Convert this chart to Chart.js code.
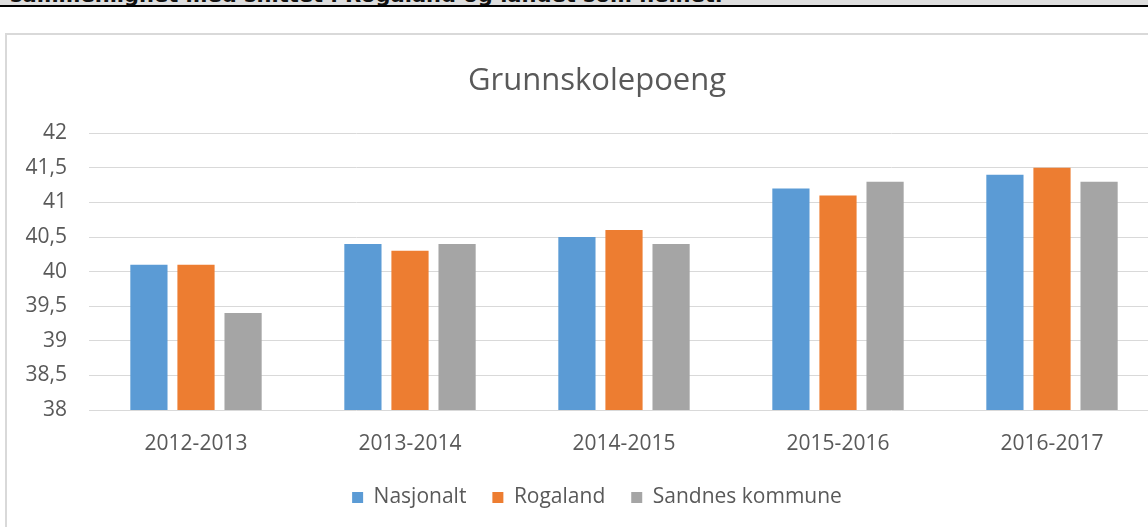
<!DOCTYPE html>
<html>
<head>
<meta charset="utf-8">
<script src="https://cdn.jsdelivr.net/npm/chart.js@4/dist/chart.umd.min.js"></script>
<style>
  body { margin: 0; background: #fff; overflow: hidden; width: 1148px; height: 527px; position: relative; }
  #strip { position: absolute; left: 0; top: 0; width: 1148px; height: 5px; background: #dedede; overflow: hidden; }
  #strip span { position: absolute; left: 10px; bottom: -1px; font: bold 21px "DejaVu Sans", sans-serif; color: #111; white-space: nowrap; line-height: 21px; }
  #rule { position: absolute; left: 0; top: 5px; width: 1148px; height: 2px; background: #000; }
  #box { position: absolute; left: 5px; top: 33px; width: 1180px; height: 600px; border: 2px solid #d9d9d9; }
  #wrap { width: 1180px; height: 520px; }
</style>
</head>
<body>
<div id="strip"><span>sammenlignet med snittet i Rogaland og landet som helhet.</span></div>
<div id="rule"></div>
<div id="box"><div id="wrap"><canvas id="myChart"></canvas></div></div>
<script>
const years = ['2012-2013', '2013-2014', '2014-2015', '2015-2016', '2016-2017'];
const nasjonalt = [40.1, 40.4, 40.5, 41.2, 41.4];
const rogaland = [40.1, 40.3, 40.6, 41.1, 41.5];
const sandnes = [39.4, 40.4, 40.4, 41.3, 41.3];

const textColor = '#595959';
const font = 'Open Sans';

// y labels sit partly inside the left layout padding, so widen their clip box
const labelRoom = {
    id: 'labelRoom',
    afterLayout(chart) { chart.scales.y.left = 0; }
};

window.addEventListener('load', setup);
function setup() {
    const ctx = document.getElementById('myChart').getContext('2d');
    new Chart(ctx, {
        type: 'bar',
        data: {
            labels: years,
            datasets: [
                { label: 'Nasjonalt', data: nasjonalt, backgroundColor: '#5b9bd5' },
                { label: 'Rogaland', data: rogaland, backgroundColor: '#ed7d31' },
                { label: 'Sandnes kommune', data: sandnes, backgroundColor: '#a5a5a5' }
            ]
        },
        options: {
            responsive: true,
            maintainAspectRatio: false,
            animation: false,
            categoryPercentage: 0.66,
            barPercentage: 0.79,
            layout: { padding: { left: 28, right: 28, top: 0, bottom: 37 } },
            plugins: {
                title: {
                    display: true,
                    text: 'Grunnskolepoeng',
                    color: textColor,
                    font: { family: font, size: 31, weight: 'normal' },
                    padding: { top: 28, bottom: 33 }
                },
                legend: {
                    position: 'bottom',
                    labels: {
                        color: textColor,
                        font: { family: font, size: 21 },
                        boxWidth: 11,
                        boxHeight: 11,
                        padding: 26
                    }
                },
                tooltip: { enabled: false }
            },
            scales: {
                x: {
                    grid: { display: false, drawTicks: false },
                    border: { display: false },
                    ticks: { color: textColor, font: { family: font, size: 21 }, padding: 21 },
                    afterFit: (scale) => { scale.height = 51; }
                },
                y: {
                    min: 38,
                    max: 42,
                    grid: { color: '#d9d9d9', lineWidth: 1, drawTicks: false },
                    border: { display: false },
                    ticks: {
                        stepSize: 0.5,
                        color: textColor,
                        font: { family: font, size: 21 },
                        padding: 22,
                        callback: (v) => String(v).replace('.', ',')
                    },
                    afterFit: (scale) => { scale.width = 54; }
                }
            }
        },
        plugins: [labelRoom]
    });
}
</script>
</body>
</html>
